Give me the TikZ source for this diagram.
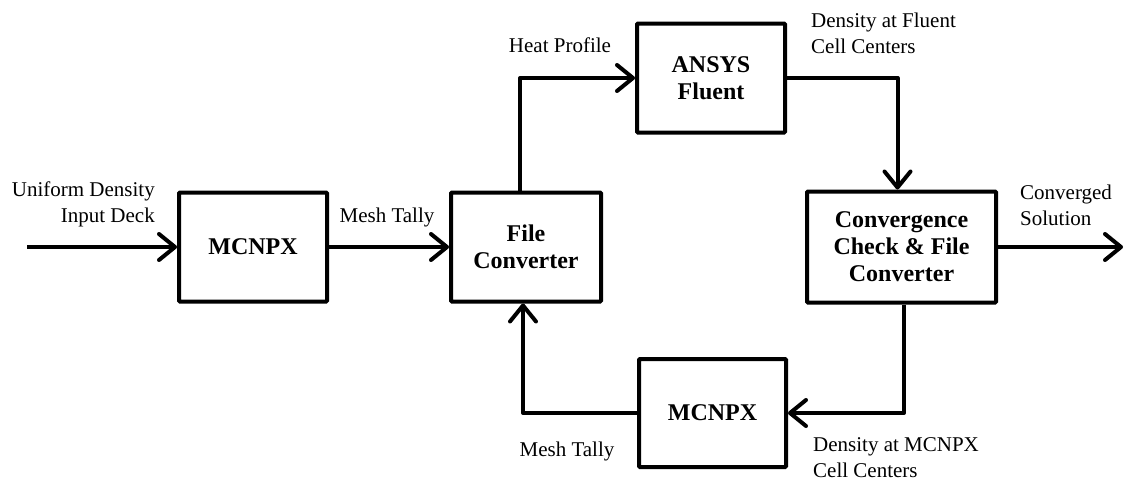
\documentclass[tikz,border=0pt]{standalone}
\usepackage{fontspec}
\setmainfont{Liberation Serif}
\usetikzlibrary{arrows.meta}
\tikzset{
  blk/.style={draw, line width=4pt, rounded corners=1pt, inner sep=0pt, align=center,
    font=\fontsize{24}{27}\selectfont\bfseries},
  lbl/.style={inner sep=0pt, font=\fontsize{21}{26}\selectfont},
  conn/.style={line width=4pt, line join=round, -{Straight Barb[length=16pt,width=26pt,line cap=round,line join=round]}},
  wire/.style={line width=4pt, line join=round}
}
\begin{document}
\begin{tikzpicture}[x=1pt,y=-1pt]
\useasboundingbox (0,0) rectangle (1126,483);
\node[blk, minimum width=148pt, minimum height=109pt] (m1) at (253,247) {MCNPX};
\node[blk, minimum width=150pt, minimum height=109pt] (fc) at (526,247) {File\\Converter};
\node[blk, minimum width=148pt, minimum height=109pt] (fl) at (711,78) {ANSYS\\Fluent};
\node[blk, minimum width=189pt, minimum height=111pt] (cc) at (901.5,247) {Convergence\\Check \& File\\Converter};
\node[blk, minimum width=147pt, minimum height=108pt] (m2) at (712.5,413) {MCNPX};
\coordinate (in) at (27,247);
\coordinate (out) at (1123,247);
\draw[conn] (in) -- (m1.west);
\draw[conn] (m1.east) -- (fc.west);
\draw[conn] ([xshift=-6pt]fc.north) |- (fl.west);
\draw[conn] (fl.east) -| ([xshift=-4pt]cc.north);
\draw[conn] ([xshift=2.5pt]cc.south) |- (m2.east);
\draw[conn] (m2.west) -| ([xshift=-3pt]fc.south);
\draw[conn] (cc.east) -- (out);
\node[lbl, align=right, anchor=east] (l1) at (155,204.5) {Uniform Density\\Input Deck};
\node[lbl] (l2) at (387,217.5) {Mesh Tally};
\node[lbl] (l3) at (560,45.5) {Heat Profile};
\node[lbl, align=left, anchor=west] (l4) at (811,33) {Density at Fluent\\Cell Centers};
\node[lbl, align=left, anchor=west] (l5) at (1020,205) {Converged\\Solution};
\node[lbl, align=left, anchor=west] (l6) at (813,458) {Density at MCNPX\\Cell Centers};
\node[lbl] (l7) at (567,451.5) {Mesh Tally};
\end{tikzpicture}
\end{document}
